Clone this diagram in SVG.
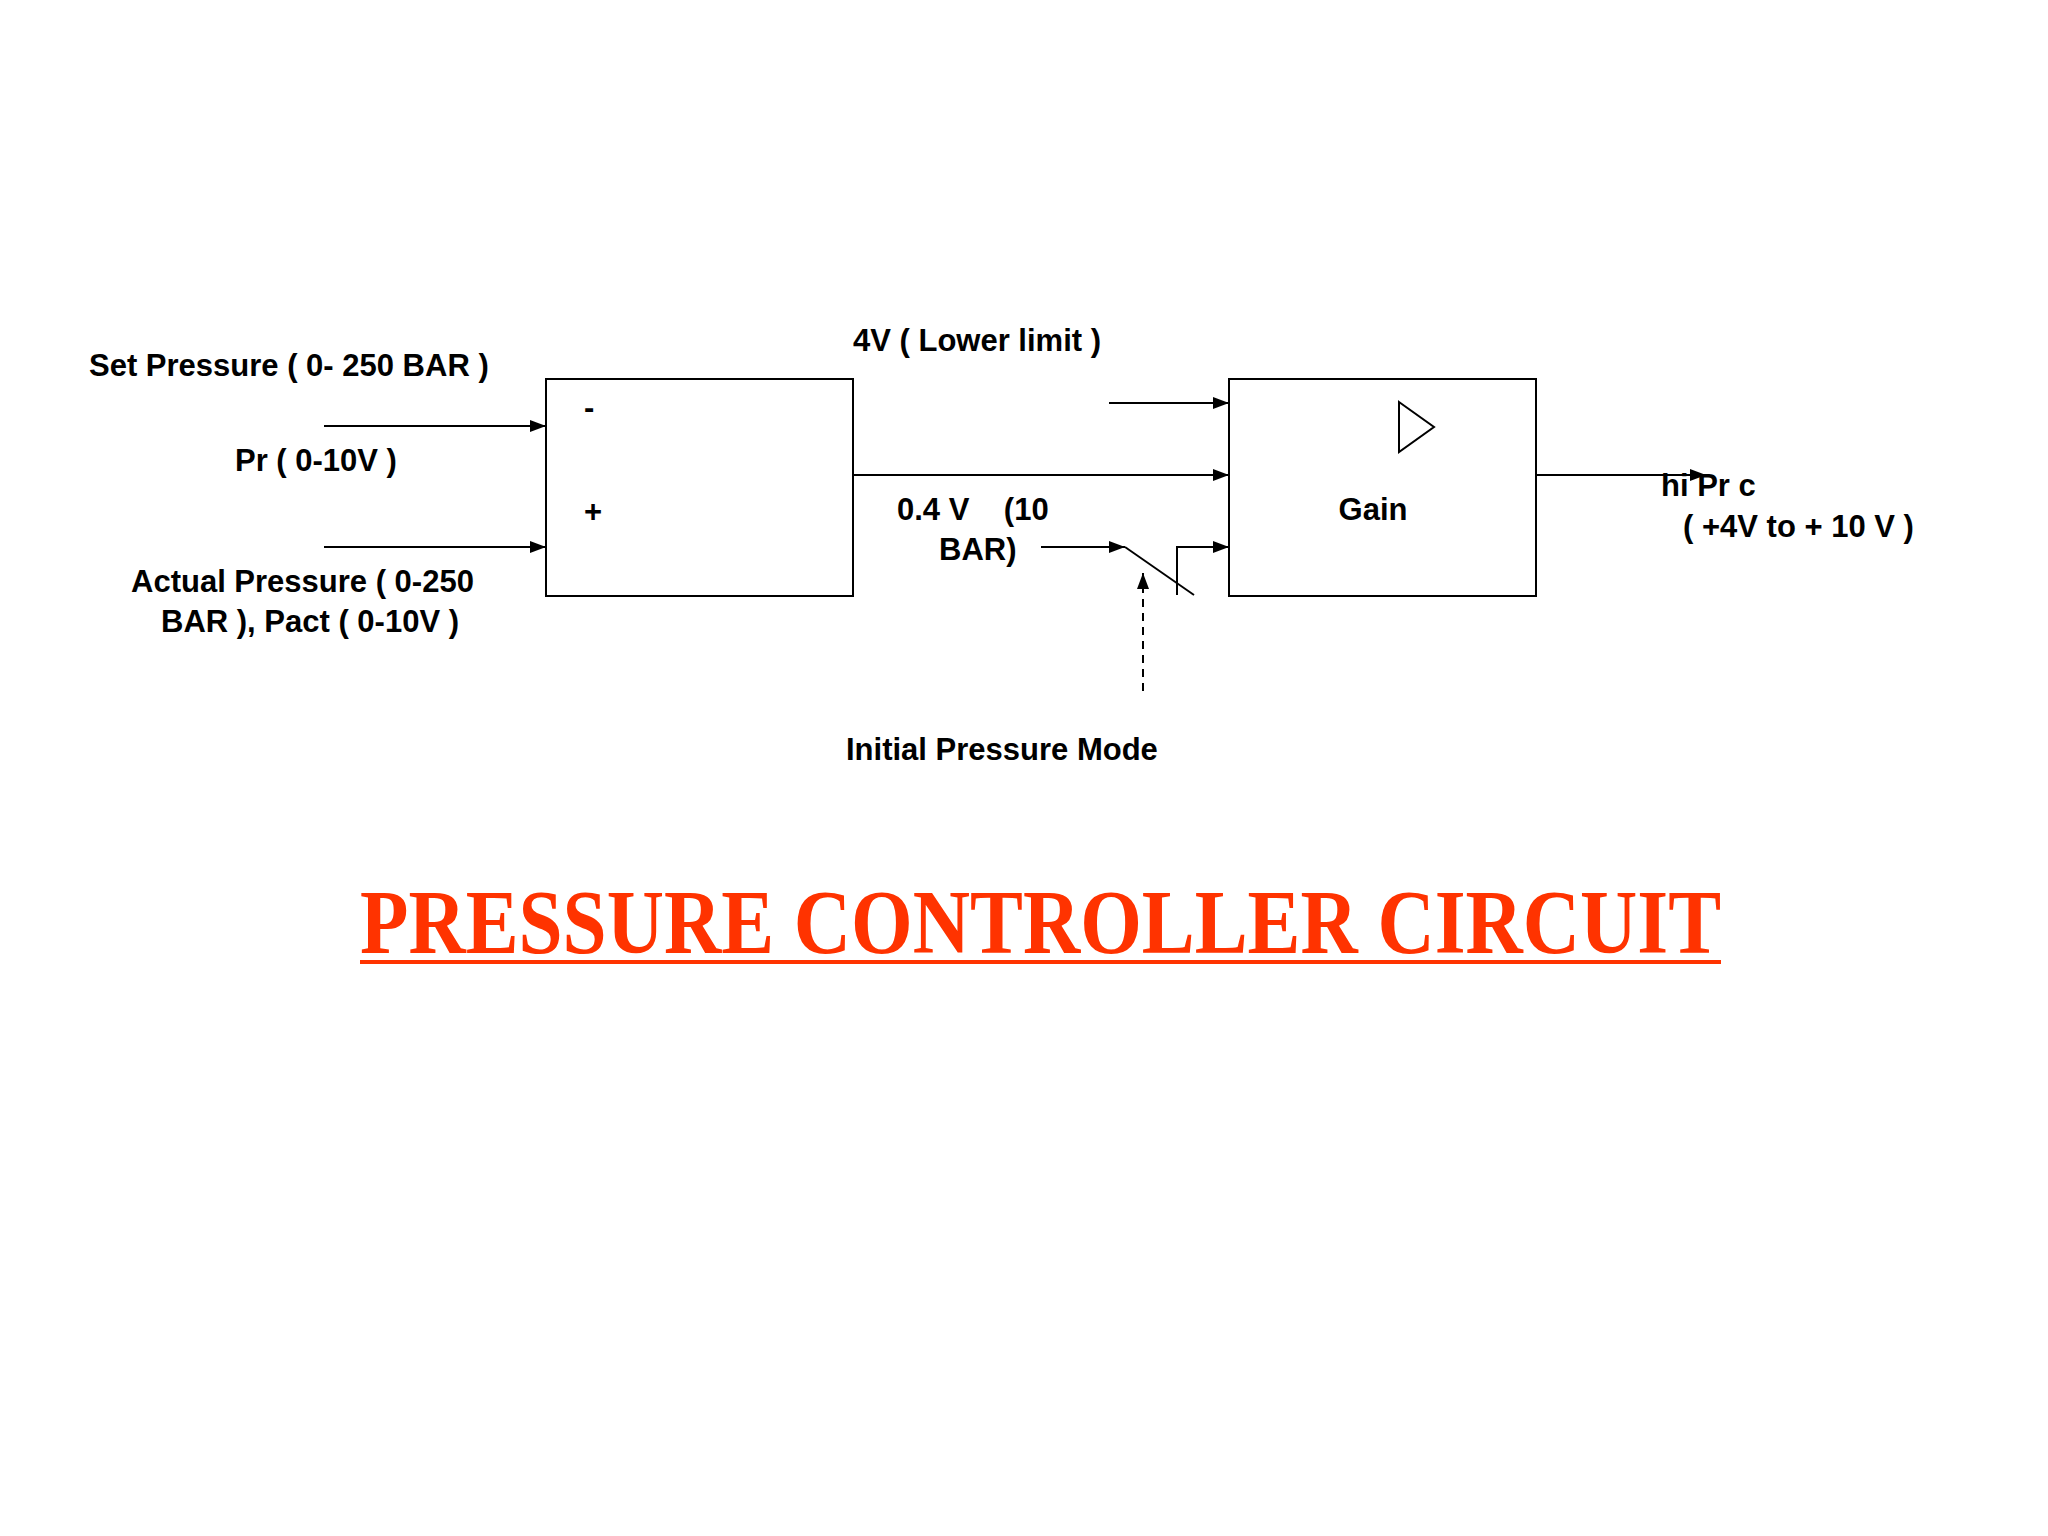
<svg xmlns="http://www.w3.org/2000/svg" width="2048" height="1536" viewBox="0 0 2048 1536">
<style>
.t{font-family:"Liberation Sans",Arial,sans-serif;font-weight:bold;font-size:31px;fill:#000}
.b{fill:#fff;stroke:#000;stroke-width:2}
.c{stroke:#000;stroke-width:2;fill:none}
</style>
<defs><marker id="a" markerWidth="16" markerHeight="12" refX="16" refY="6" orient="auto" markerUnits="userSpaceOnUse"><path d="M0,0L16,6L0,12z" fill="#000"/></marker></defs>
<rect width="2048" height="1536" fill="#fff"/>
<g id="comparator"><rect class="b" x="546" y="379" width="307" height="217"/><text class="t" x="584" y="418">-</text><text class="t" x="584" y="522">+</text></g>
<g id="gain"><rect class="b" x="1229" y="379" width="307" height="217"/><path class="c" d="M1399,402L1434,427L1399,452z"/><text class="t" x="1373" y="520" text-anchor="middle">Gain</text></g>
<g id="connectors">
<line class="c" x1="324" y1="426" x2="546" y2="426" marker-end="url(#a)"/>
<line class="c" x1="324" y1="547" x2="546" y2="547" marker-end="url(#a)"/>
<line class="c" x1="1109" y1="403" x2="1229" y2="403" marker-end="url(#a)"/>
<line class="c" x1="853" y1="475" x2="1229" y2="475" marker-end="url(#a)"/>
<line class="c" x1="1041" y1="547" x2="1125" y2="547" marker-end="url(#a)"/>
<line class="c" x1="1125" y1="547" x2="1194" y2="595"/>
<polyline class="c" points="1177,595 1177,547 1229,547" marker-end="url(#a)"/>
<line class="c" x1="1143" y1="691" x2="1143" y2="573" stroke-dasharray="8,6" marker-end="url(#a)"/>
<line class="c" x1="1536" y1="475" x2="1706" y2="475" marker-end="url(#a)"/>
</g>
<g id="labels">
<text class="t" x="89" y="376">Set Pressure ( 0- 250 BAR )</text>
<text class="t" x="235" y="471">Pr ( 0-10V )</text>
<text class="t" x="131" y="592">Actual  Pressure ( 0-250</text>
<text class="t" x="161" y="632">BAR ), Pact ( 0-10V )</text>
<text class="t" x="853" y="351">4V ( Lower limit )</text>
<text class="t" x="897" y="520" xml:space="preserve">0.4 V    (10</text>
<text class="t" x="939" y="560">BAR)</text>
<text class="t" x="1661" y="496">hi Pr c</text>
<text class="t" x="1683" y="537">( +4V to + 10 V )</text>
<text class="t" x="846" y="760">Initial  Pressure Mode</text>
</g>
<g id="title">
<text x="360" y="953" font-family="'Liberation Serif','Times New Roman',serif" font-weight="bold" font-size="90" fill="#FF3300" textLength="1361" lengthAdjust="spacingAndGlyphs">PRESSURE CONTROLLER CIRCUIT</text>
<rect x="360" y="960" width="1361" height="4" fill="#FF3300"/>
</g>
</svg>
